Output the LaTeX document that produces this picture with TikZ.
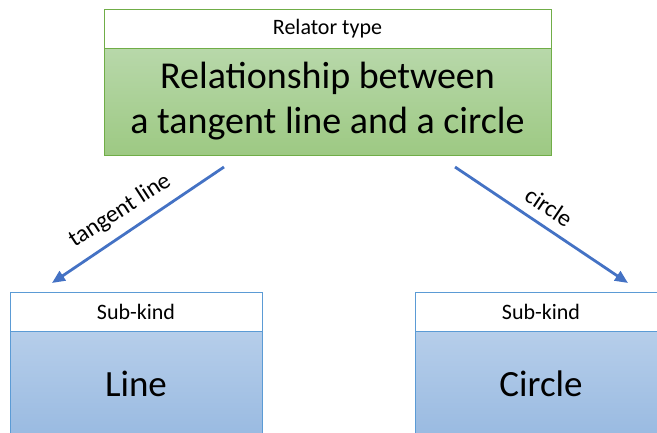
\documentclass[tikz,border=0pt]{standalone}
\usepackage{fontspec}
\setmainfont{Carlito}
\usetikzlibrary{arrows.meta}
\definecolor{gtop}{RGB}{184,216,170}
\definecolor{gbot}{RGB}{157,201,131}
\definecolor{gline}{RGB}{112,173,71}
\definecolor{btop}{RGB}{182,206,234}
\definecolor{bbot}{RGB}{153,186,225}
\definecolor{bline}{RGB}{91,155,213}
\definecolor{arr}{RGB}{68,114,196}
\begin{document}
\begin{tikzpicture}[x=1pt,y=-1pt,
  hdr/.style={draw, line width=1pt, fill=white, inner sep=0pt, font=\fontsize{22}{26}\selectfont},
  gbody/.style={draw=gline, line width=1pt, top color=gtop, bottom color=gbot, inner sep=0pt, align=center, font=\fontsize{38}{45}\selectfont},
  bbody/.style={draw=bline, line width=1pt, top color=btop, bottom color=bbot, inner sep=0pt, font=\fontsize{37}{44}\selectfont},
  conn/.style={draw=arr, line width=2.8pt, -{Triangle[length=13pt,width=11pt]}},
  lbl/.style={font=\fontsize{24}{28}\selectfont, inner sep=0pt}]
\clip (0,0) rectangle (657,432);
\node[hdr, draw=gline, minimum width=447pt, minimum height=39pt] (toph) at (327.5,28.5) {Relator type};
\node[gbody, minimum width=447pt, minimum height=107pt] (topb) at (327.5,101.5) {Relationship between\\a tangent line and a circle};
\node[hdr, draw=bline, minimum width=252pt, minimum height=39pt] (lh) at (136,311.5) {Sub-kind};
\node[bbody, minimum width=252pt, minimum height=106pt] (lb) at (136,384) {Line};
\node[hdr, draw=bline, minimum width=251pt, minimum height=39pt] (rh) at (541,311.5) {Sub-kind};
\node[bbody, minimum width=251pt, minimum height=106pt] (rb) at (541,384) {Circle};
\coordinate (a1s) at (224,167);
\coordinate (a1e) at (52,283);
\coordinate (a2s) at (455,167);
\coordinate (a2e) at (628,283);
\draw[conn] (a1s) -- (a1e);
\draw[conn] (a2s) -- (a2e);
\node[lbl, rotate=33] (l1) at (120,211) {tangent line};
\node[lbl, rotate=-34] (l2) at (549,207) {circle};
\end{tikzpicture}
\end{document}
